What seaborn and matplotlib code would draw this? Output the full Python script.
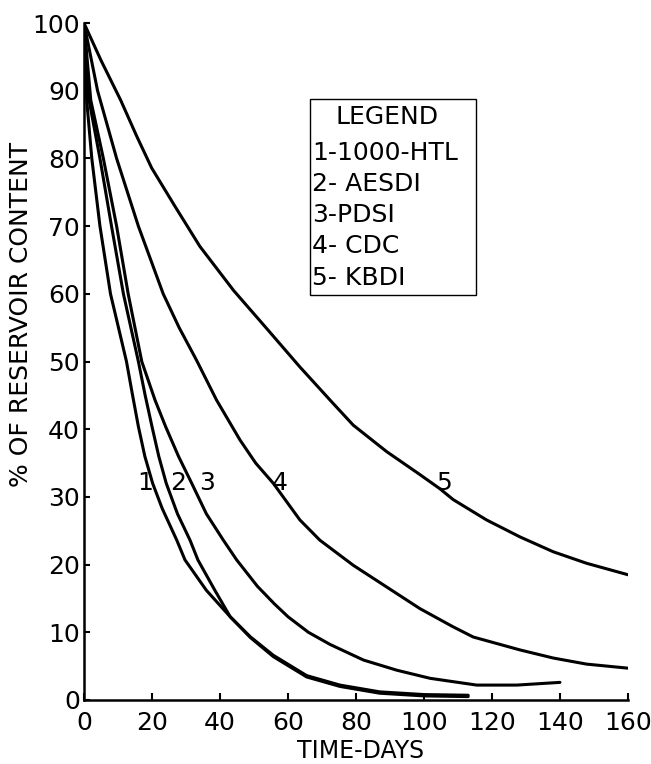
import matplotlib
matplotlib.use("Agg")
import matplotlib.pyplot as plt
import seaborn as sns
import pandas as pd
from matplotlib.patches import Rectangle

# valores (dias, % do reservatório)
dias_1 = [0, 0.8, 2.3, 4.7, 7.8, 12.5, 14.3, 16.0, 17.9, 20.2, 23.0, 27.3, 29.7, 36, 43, 49, 55.7,
          65.5, 75.3, 87, 100, 113]
pct_1 = [100, 88.6, 80, 70, 60, 50, 45, 40.4, 36, 32, 28.3, 23.6, 20.7, 16.2, 12.3, 9.2, 6.4,
         3.4, 2.0, 1.0, 0.6, 0.5]

dias_2 = [0, 1.5, 4.7, 8.1, 11.6, 16.0, 18.0, 20.0, 22.0, 24.2, 27.5, 31.2, 33.5, 38.5, 43, 49,
          55.7, 65.5, 75.3, 87, 100, 113]
pct_2 = [100, 88.6, 80, 70, 60, 50, 45, 40.4, 36, 32, 27.5, 23.6, 20.7, 16.2, 12.3, 9.3,
         6.6, 3.6, 2.2, 1.2, 0.8, 0.7]

dias_3 = [0, 2, 5.7, 9.6, 13.0, 17.0, 20.9, 24.0, 27.8, 31.7, 36, 41, 44.9, 51, 56, 60, 66, 72.4,
          82.2, 92, 101.8, 115.5, 127.3, 140]
pct_3 = [100, 88.6, 80, 70, 60, 50, 44.3, 40.4, 36, 32, 27.5, 23.6, 20.7, 16.8, 14.2, 12.3, 10.0,
         8.2, 5.9, 4.4, 3.2, 2.2, 2.2, 2.6]

dias_4 = [0, 4, 9.6, 16.0, 23.3, 28, 33.1, 39, 45.9, 50.5, 55.7, 63.5, 69.4, 79.2, 89, 98.8,
          108.6, 114.5, 128.2, 138, 147.8, 160]
pct_4 = [100, 90, 80, 70, 60, 55, 50.2, 44.3, 38.4, 35, 32, 26.6, 23.6, 19.9, 16.7, 13.5,
         10.8, 9.3, 7.4, 6.2, 5.3, 4.7]

dias_5 = [0, 5, 10.8, 15.5, 19.9, 26.8, 34.1, 44, 53.7, 63.5, 73.3, 79.2, 89, 98.8, 104.7,
          108.6, 118.4, 128.2, 138, 147.8, 160]
pct_5 = [100, 94.5, 88.6, 83.3, 78.6, 72.9, 67, 60.5, 54.9, 49.2, 43.8, 40.6, 36.7, 33.3, 31.2,
         29.6, 26.6, 24.1, 21.9, 20.2, 18.5]

legenda = ["1-1000-HTL", "2- AESDI", "3-PDSI", "4- CDC", "5- KBDI"]
rotulos = ["1", "2", "3", "4", "5"]
pos_rotulos = [(18.0, 32), (27.7, 32), (36.1, 32), (57.6, 32), (106, 32)]

curvas = [(dias_1, pct_1), (dias_2, pct_2), (dias_3, pct_3), (dias_4, pct_4), (dias_5, pct_5)]
df = pd.concat([
    pd.DataFrame({"dia": d, "pct": p, "curva": i + 1})
    for i, (d, p) in enumerate(curvas)
])

sns.set_style("ticks")
plt.rcParams.update({
    "font.family": ["DejaVu Sans"],
    "text.color": "black",
    "axes.labelcolor": "black",
    "xtick.color": "black",
    "ytick.color": "black",
})

fig = plt.figure(figsize=(6.51, 7.64), dpi=100)
ax = fig.add_axes([0.129, 0.0838, 0.8356, 0.886])

sns.lineplot(data=df, x="dia", y="pct", units="curva", estimator=None,
             color="black", lw=2.2, legend=False, ax=ax,
             solid_joinstyle="round", solid_capstyle="round")

ax.set_xlim(0, 160)
ax.set_ylim(0, 100)
ax.set_xticks(range(0, 161, 20))
ax.set_yticks(range(0, 101, 10))
ax.tick_params(axis="both", direction="in", labelsize=18, width=1.5)
ax.tick_params(axis="x", length=5, pad=8)
ax.tick_params(axis="y", length=4, pad=3)
sns.despine(ax=ax)
for s in ["left", "bottom"]:
    ax.spines[s].set_linewidth(1.8)
    ax.spines[s].set_color("black")

ax.set_xlabel("TIME-DAYS", fontsize=17)
ax.set_ylabel("% OF RESERVOIR CONTENT", fontsize=18)
ax.xaxis.set_label_coords(0.509, -0.058)
ax.yaxis.set_label_coords(-0.093, 0.569)

for r, (x, y) in zip(rotulos, pos_rotulos):
    ax.text(x, y, r, fontsize=18, ha="center", va="center")

# caixa da legenda
ax.add_patch(Rectangle((66.5, 59.8), 48.8, 29.0, fill=False, lw=1.0, ec="black"))
ax.text(89.1, 86.1, "LEGEND", fontsize=18, ha="center", va="center")
for i, txt in enumerate(legenda):
    ax.text(67.2, 80.8 - i * 4.6, txt, fontsize=18, ha="left", va="center")

fig.savefig("out.png", dpi=100)
